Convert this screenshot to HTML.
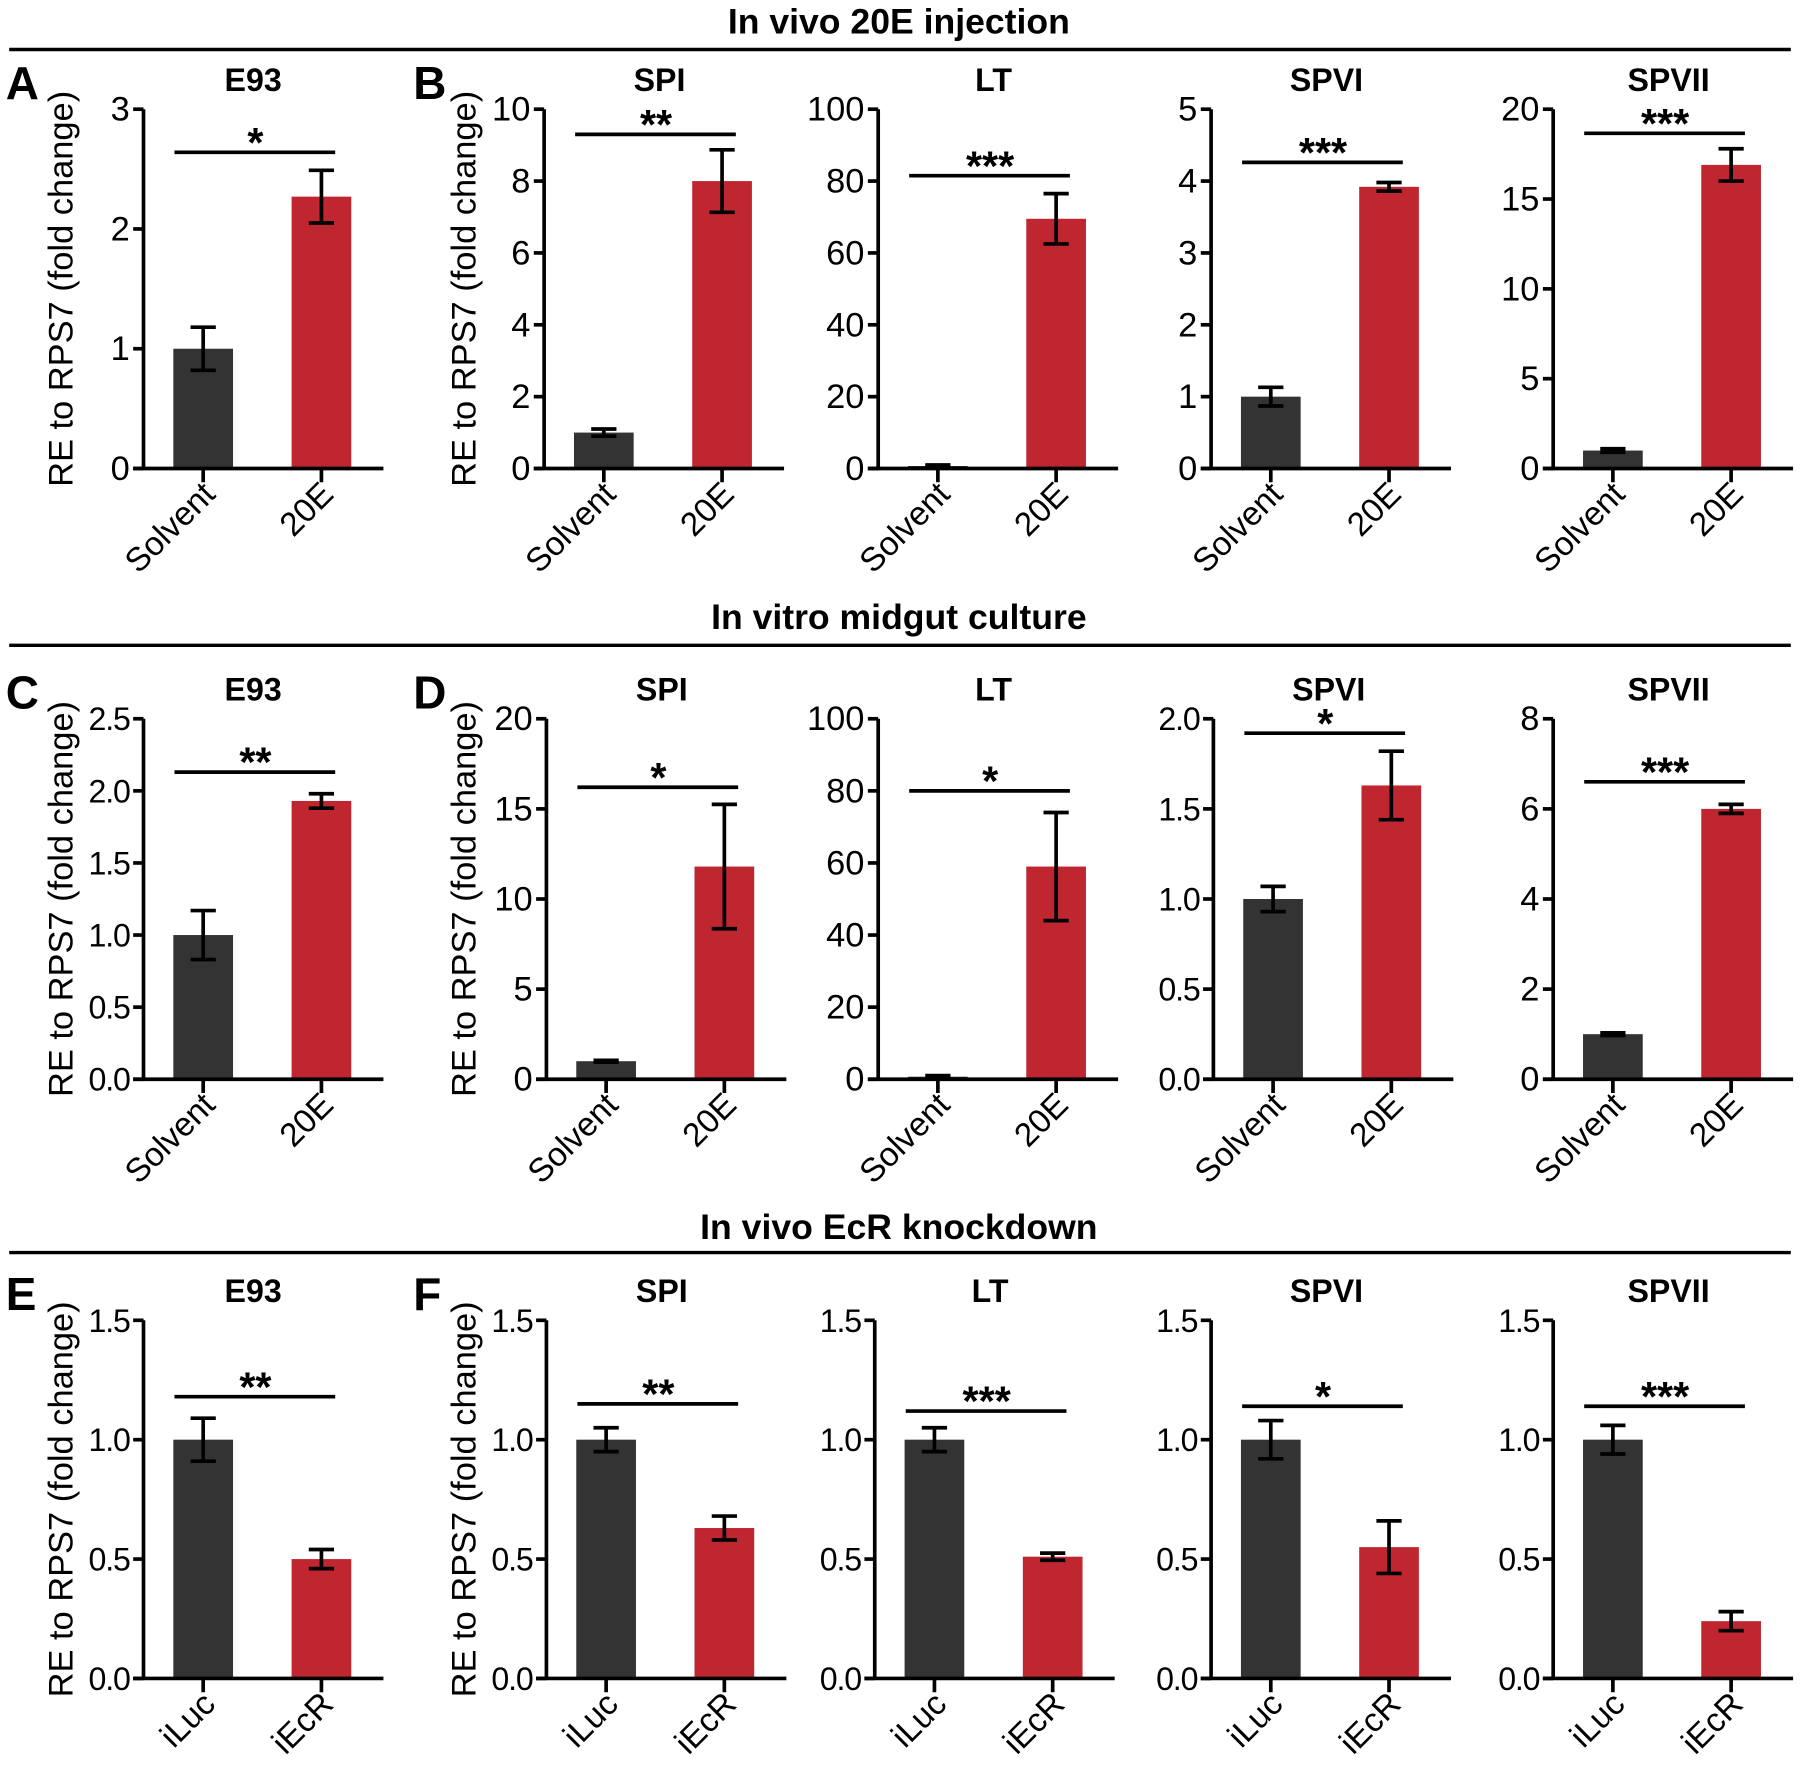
<!DOCTYPE html>
<html><head><meta charset="utf-8"><style>
html,body{margin:0;padding:0;background:#fff;}
svg{display:block;font-family:"Liberation Sans",Arial,sans-serif;}
</style></head><body>
<svg id="fig" width="1800" height="1767" viewBox="0 0 1568 1539" xmlns="http://www.w3.org/2000/svg">
<g><text x="783" y="29" text-anchor="middle" font-size="31" font-weight="bold">In vivo 20E injection</text><line x1="8" y1="43" x2="1560" y2="43" stroke="#000" stroke-width="3"/></g>
<g><text x="783" y="548" text-anchor="middle" font-size="31" font-weight="bold">In vitro midgut culture</text><line x1="8" y1="562" x2="1560" y2="562" stroke="#000" stroke-width="3"/></g>
<g><text x="783" y="1079" text-anchor="middle" font-size="31" font-weight="bold">In vivo EcR knockdown</text><line x1="8" y1="1091" x2="1560" y2="1091" stroke="#000" stroke-width="3"/></g>
</svg>
<script>
// Data arrays
const titles = ["E93","SPI","LT","SPVI","SPVII","E93","SPI","LT","SPVI","SPVII","E93","SPI","LT","SPVI","SPVII"];
const yMax = [3,10,100,5,20, 2.5,20,100,2,8, 1.5,1.5,1.5,1.5,1.5];
const yStep = [1,2,20,1,5, 0.5,5,20,0.5,2, 0.5,0.5,0.5,0.5,0.5];
const ctrlValues = [1,1,0.7,1,1, 1,1,0.7,1,1, 1,1,1,1,1];
const ctrlErr = [0.18,0.1,0.3,0.13,0.1, 0.17,0.05,0.3,0.07,0.03, 0.09,0.05,0.05,0.08,0.06];
const trtValues = [2.27,8,69.5,3.92,16.9, 1.93,11.8,59,1.63,6, 0.5,0.63,0.51,0.55,0.24];
const trtErr = [0.22,0.87,7,0.06,0.9, 0.05,3.45,15,0.19,0.1, 0.04,0.05,0.015,0.11,0.04];
const sigLevel = [2.64,9.3,81.5,4.26,18.66, 2.13,16.2,80,1.92,6.6, 1.18,1.15,1.12,1.14,1.14];
const sigText = ["*","**","***","***","***", "**","*","*","*","***", "**","**","***","*","***"];
const rowCategories = [["Solvent","20E"],["Solvent","20E"],["iLuc","iEcR"]];
const tickDecimals = [0,0,0,0,0, 1,0,0,1,0, 1,1,1,1,1];
const panelLetters = ["A","B","C","D","E","F"];

// Layout
const rowBase=[408,940,1462], rowTop=[95,626,1150];
const axisX=[[125,474,765,1055,1353],[125,476,765,1057,1353],[125,476,762,1055,1353]];
const ns="http://www.w3.org/2000/svg";
const svg=document.getElementById('fig');
function mk(tag,attrs,parent){const e=document.createElementNS(ns,tag);for(const k in attrs)e.setAttribute(k,attrs[k]);(parent||svg).appendChild(e);return e;}
function txt(s,attrs,parent){const e=mk('text',attrs,parent);e.textContent=s;return e;}

for(let r=0;r<3;r++){
  [[5,0],[360,1]].forEach(([lx,k])=>{
    const t=txt(panelLetters[r*2+k],{x:lx,y:rowTop[r]-9,'font-size':40,'font-weight':'bold'});
    
    
  });
  for(let c=0;c<5;c++){
    const i=r*5+c;
    const ax=axisX[r][c], base=rowBase[r], top=rowTop[r];
    const g=mk('g',{});
    
    
    const y=v=>base-(v/yMax[i])*(base-top);
    const c1=ax+52, c2=ax+155, bw=52;
    const tt=txt(titles[i],{x:(c1+c2)/2-(c===0?8:3),y:top-16,'text-anchor':'middle','font-size':28,'font-weight':'bold'},g);
    
    
    if(c<2){
      const lx=c===0?52:403;
      const yl=txt('RE to RPS7 (fold change)',{x:0,y:0,transform:`translate(${lx+11},${(base+top)/2}) rotate(-90)`,'text-anchor':'middle','font-size':30},g);
      
      
    }
    [[c1,ctrlValues[i],ctrlErr[i],'#333333','control'],[c2,trtValues[i],trtErr[i],'#c0262f','treatment']].forEach(([cx,v,e,col,nm])=>{
      const b=mk('rect',{x:cx-bw/2,y:y(v),width:bw,height:base-y(v),fill:col},g);
      
      
      const eb=mk('path',{d:`M${cx},${y(v+e)}V${y(Math.max(0,v-e))}M${cx-11},${y(v+e)}H${cx+11}M${cx-11},${y(Math.max(0,v-e))}H${cx+11}`,stroke:'#000','stroke-width':3.2,fill:'none'},g);
      
      
    });
    const ya=mk('path',{d:`M${ax},${top}V${base}`,stroke:'#000','stroke-width':3.2},g);
    
    
    const xa=mk('path',{d:`M${ax-9},${base}H${ax+209}M${c1},${base}V${base+12}M${c2},${base}V${base+12}`,stroke:'#000','stroke-width':3.2},g);
    
    
    const n=Math.round(yMax[i]/yStep[i]);
    const fs=tickDecimals[i]?28:30;
    for(let k=0;k<=n;k++){
      const v=k*yStep[i];
      mk('path',{d:`M${ax-9},${y(v)}H${ax}`,stroke:'#000','stroke-width':3.2},g);
      const tl=txt(v.toFixed(tickDecimals[i]),{x:ax-12,y:y(v)+10,'text-anchor':'end','font-size':fs,'letter-spacing':tickDecimals[i]?-1:0},g);
      
      
    }
    rowCategories[r].forEach((cat,j)=>{
      const cx=j?c2:c1;
      const xl=txt(cat,{x:0,y:0,transform:`translate(${cx+12},${base+24}) rotate(-45)`,'text-anchor':'end','font-size':29},g);
      
      
    });
    const sy=y(sigLevel[i]);
    const sl=mk('path',{d:`M${c1-25},${sy}H${c2+12}`,stroke:'#000','stroke-width':3.2},g);
    
    
    const st=txt(sigText[i],{x:(c1+c2)/2-6,y:sy+4,'text-anchor':'middle','font-size':36,'font-weight':'bold'},g);
    
    
  }
}
</script>
</body></html>
